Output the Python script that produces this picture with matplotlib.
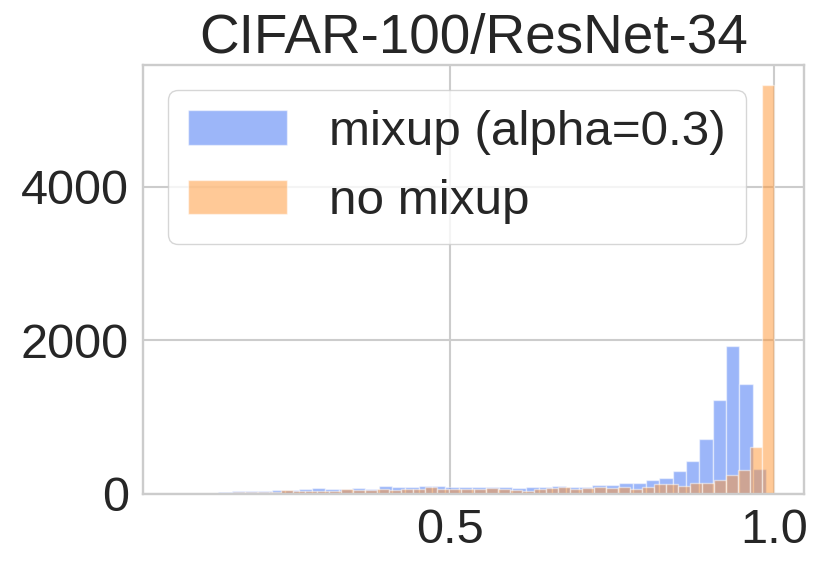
import numpy as np
import matplotlib.pyplot as plt

# confidence histograms, CIFAR-100 / ResNet-34
mix_lo, mix_hi = 0.082, 0.988
mix_counts = [2, 5, 17, 30, 35, 40, 45, 50, 55, 60, 74, 70, 65, 80, 65, 105,
              88, 96, 105, 105, 90, 87, 88, 92, 92, 78, 92, 92, 108, 95, 92,
              114, 114, 148, 148, 179, 209, 305, 431, 719, 1220, 1922, 1438, 327]

nomix_lo, nomix_hi = 0.074, 1.0
nomix_counts = [1, 1, 2, 5, 8, 22, 20, 30, 30, 52, 40, 40, 45, 45, 60, 55, 50,
                60, 55, 65, 60, 85, 70, 65, 60, 65, 74, 65, 56, 43, 65, 74, 95,
                65, 78, 87, 74, 92, 70, 95, 127, 127, 108, 140, 140, 179, 248,
                314, 614, 5320]

labels = ['mixup (alpha=0.3)', 'no mixup']
title = 'CIFAR-100/ResNet-34'

plt.rcParams['font.family'] = ['Liberation Sans', 'DejaVu Sans']

fig = plt.figure(figsize=(8.3, 5.73), dpi=100)
ax = fig.add_axes([0.1723, 0.1379, 0.7964, 0.7487])

edges_m = np.linspace(mix_lo, mix_hi, len(mix_counts) + 1)
edges_n = np.linspace(nomix_lo, nomix_hi, len(nomix_counts) + 1)
ax.hist((edges_m[:-1] + edges_m[1:]) / 2, bins=edges_m, weights=mix_counts,
        color='#3b6ef5', alpha=0.5, edgecolor='white', linewidth=1,
        label=labels[0])
ax.hist((edges_n[:-1] + edges_n[1:]) / 2, bins=edges_n, weights=nomix_counts,
        color='#ff9430', alpha=0.5, edgecolor='white', linewidth=1,
        label=labels[1])

ax.set_xticks([0.5, 1.0])
ax.set_yticks([0, 2000, 4000])
ax.tick_params(labelsize=35, length=0, pad=10, colors='#262626')
ax.grid(True, color='#cccccc', linewidth=1.5)
ax.set_axisbelow(True)
for s in ax.spines.values():
    s.set_color('#cccccc')
    s.set_linewidth(1.7)

ax.set_title(title, fontsize=39.5, color='#262626', pad=8)
leg = ax.legend(loc='upper left', bbox_to_anchor=(0.038, 0.942),
                borderaxespad=0, fontsize=35.6, handletextpad=0.86,
                frameon=True, fancybox=True, edgecolor='#cccccc')
for t in leg.get_texts():
    t.set_color('#262626')

fig.savefig('out.png', dpi=100)
